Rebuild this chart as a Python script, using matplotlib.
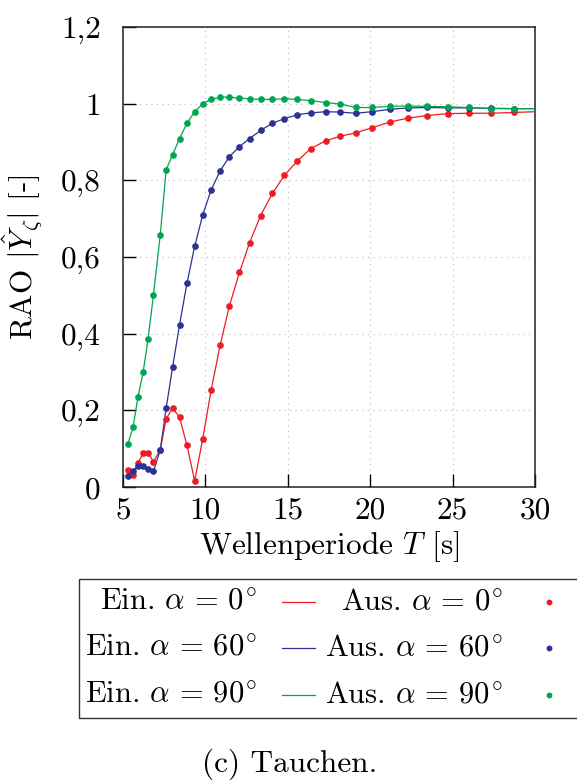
import matplotlib
matplotlib.use("Agg")
import matplotlib.pyplot as plt
from matplotlib.lines import Line2D
from matplotlib.patches import Rectangle

plt.rcParams['font.family'] = 'cmr10'
plt.rcParams['mathtext.fontset'] = 'cm'
plt.rcParams['axes.unicode_minus'] = False

# Wellenperioden der Punkte (Aus.)
t_aus = [5.30, 5.61, 5.91, 6.22, 6.52, 6.85, 7.26, 7.62, 8.01, 8.43, 8.88, 9.35,
         9.84, 10.35, 10.90, 11.46, 12.07, 12.68, 13.35, 14.07, 14.80, 15.57,
         16.40, 17.30, 18.17, 19.13, 20.10, 21.18, 22.27, 23.46, 24.70, 26.00,
         27.34, 28.76]

rao_0 = [0.045, 0.032, 0.062, 0.089, 0.090, 0.066, 0.097, 0.178, 0.206, 0.182,
         0.109, 0.016, 0.126, 0.253, 0.371, 0.473, 0.560, 0.637, 0.708, 0.766,
         0.813, 0.850, 0.883, 0.903, 0.915, 0.924, 0.937, 0.952, 0.962, 0.969,
         0.974, 0.975, 0.975, 0.977]
rao_60 = [0.030, 0.043, 0.054, 0.056, 0.047, 0.041, 0.097, 0.206, 0.313, 0.423,
          0.531, 0.628, 0.710, 0.775, 0.825, 0.862, 0.888, 0.909, 0.930, 0.949,
          0.961, 0.971, 0.976, 0.979, 0.978, 0.975, 0.979, 0.985, 0.989, 0.990,
          0.989, 0.989, 0.988, 0.987]
rao_90 = [0.113, 0.156, 0.236, 0.299, 0.386, 0.502, 0.658, 0.828, 0.867, 0.909,
          0.949, 0.979, 1.000, 1.011, 1.017, 1.017, 1.014, 1.013, 1.011, 1.011,
          1.013, 1.011, 1.008, 1.003, 0.999, 0.990, 0.990, 0.993, 0.994, 0.993,
          0.992, 0.990, 0.987, 0.987]

# Linien (Ein.) laufen bis T = 30 s
t_end = 30.0
rao_end = [0.979, 0.987, 0.987]

labels_alpha = ['0', '60', '90']
colors = ['#ed1c24', '#2e3192', '#00a651']

y_ticks = [0, 0.2, 0.4, 0.6, 0.8, 1.0, 1.2]
y_ticklabels = ['0', '0,2', '0,4', '0,6', '0,8', '1', '1,2']
x_ticks = [5, 10, 15, 20, 25, 30]

FS = 22.5

fig = plt.figure(figsize=(5.77, 7.8), dpi=100)
ax = fig.add_axes([0.2132, 0.3756, 0.7138, 0.5898])

for rao, end, c in zip([rao_0, rao_60, rao_90], rao_end, colors):
    ax.plot(t_aus + [t_end], rao + [end], color=c, lw=0.9, zorder=3)
    ax.plot(t_aus, rao, ls='none', marker='o', ms=3.8, color=c, zorder=4)

ax.set_xlim(5, 30)
ax.set_ylim(0, 1.2)
ax.set_xticks(x_ticks)
ax.set_xticklabels([str(x) for x in x_ticks])
ax.set_yticks(y_ticks)
ax.set_yticklabels(y_ticklabels)
ax.tick_params(direction='in', length=9.5, width=1, labelsize=FS,
               top=False, right=False)
ax.tick_params(axis='y', pad=16)
ax.tick_params(axis='x', pad=7)
ax.grid(True, color='#bbbbbb', lw=0.8, ls=(0, (1, 4)))
for sp in ax.spines.values():
    sp.set_linewidth(1.1)
    sp.set_color('#222222')

ax.set_xlabel(r'Wellenperiode $T$ [s]', fontsize=FS, labelpad=3)
ax.set_ylabel(r'RAO $|\hat{Y}_\zeta|$ [-]', fontsize=FS, labelpad=12)

# Legende von Hand, Texte rechtsbuendig
W, H = 577.0, 780.0
box = Rectangle((79 / W, 1 - 718 / H), 520 / W, 139 / H, transform=fig.transFigure,
                fill=False, ec='#333333', lw=1.0, clip_on=False)
fig.patches.append(box)
rows_y = [602, 648, 695]
for a, c, ry in zip(labels_alpha, colors, rows_y):
    yy = 1 - ry / H
    fig.text(257 / W, yy, r'Ein. $\alpha\,{=}\,%s^{\!\circ}$' % a, ha='right', va='center',
             fontsize=22)
    fig.add_artist(Line2D([282 / W, 315 / W], [yy, yy], transform=fig.transFigure,
                          color=c, lw=0.9))
    fig.text(503 / W, yy, r'Aus. $\alpha\,{=}\,%s^{\!\circ}$' % a, ha='right', va='center',
             fontsize=22)
    fig.add_artist(Line2D([549 / W], [yy], transform=fig.transFigure, ls='none',
                          marker='o', ms=3.2, color=c))

fig.text(290 / W, 1 - 764 / H, '(c) Tauchen.', ha='center', va='center', fontsize=FS)

fig.savefig('out.png', dpi=100)
